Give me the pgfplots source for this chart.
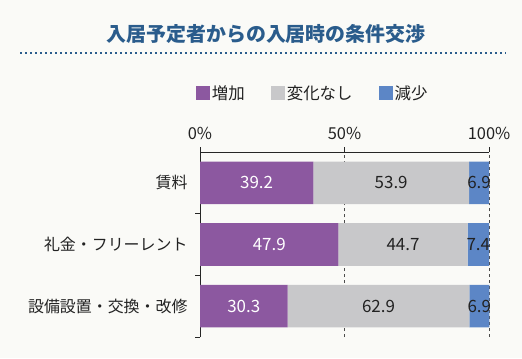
\documentclass[border=0pt]{standalone}
\usepackage{fontspec}
\setmainfont{Noto Sans CJK JP}
\usepackage{pgfplots}
\pgfplotsset{compat=1.18}
\definecolor{bg}{RGB}{250,250,247}
\definecolor{ttl}{RGB}{42,92,140}
\definecolor{cP}{RGB}{140,88,160}
\definecolor{cG}{RGB}{200,200,202}
\definecolor{cB}{RGB}{92,134,198}
\definecolor{txt}{RGB}{34,34,34}
\begin{document}
\begin{tikzpicture}[x=1bp,y=1bp]
\fill[bg] (0,0) rectangle (522,358);
\node[font=\fontsize{20}{24}\selectfont\bfseries, text=ttl] at (266,324) {入居予定者からの入居時の条件交渉};
\draw[ttl, line width=1.6bp, dash pattern=on 1.6bp off 3.4bp] (20,305) -- (506,305);
\begin{axis}[
  at={(200bp,206bp)}, anchor=north west,
  scale only axis, width=289bp, height=185bp,
  clip=false,
  xbar stacked, bar width=0.69,
  xmin=0, xmax=100, ymin=-0.5, ymax=2.5,
  axis x line*=top, axis y line*=left,
  axis line style={-, black!85, line width=0.8bp},
  tick align=outside,
  xtick={0,50,100}, xticklabels={0\%,50\%,100\%},
  ytick={0,1,2}, yticklabels={設備設置・交換・改修,礼金・フリーレント,賃料},
  major tick length=0bp,
  minor ytick={-0.5,0.5,1.5}, minor tick length=5bp,
  extra x ticks={0,50,100}, extra x tick labels={},
  extra x tick style={major tick length=5bp, grid=none},
  tick style={black!85, line width=0.8bp},
  xmajorgrids, major grid style={black!70, dashed, line width=0.8bp},
  xticklabel style={font=\fontsize{16.5}{20}\selectfont, text=txt, yshift=9bp},
  yticklabel style={font=\fontsize{16}{20}\selectfont, text=txt, xshift=-9bp},
  legend style={at={(-0.025,1.319)}, anchor=west, draw=none, fill=none,
    font=\fontsize{16.5}{20}\selectfont, text=txt, legend columns=-1,
    /tikz/every even column/.append style={column sep=24bp}},
  legend image code/.code={\fill[#1] (0bp,-7bp) rectangle (14bp,7bp);},
  /pgf/number format/assume math mode=true,
  visualization depends on={rawx \as \myx},
  nodes near coords={\pgfmathprintnumber[fixed,precision=1,fixed zerofill]{\myx}},
  nodes near coords align={center},
  every node near coord/.append style={anchor=center, font=\fontsize{17}{20}\selectfont},
]
\addplot[fill=cP, draw=none, every node near coord/.append style={text=white}] coordinates {(30.3,0) (47.9,1) (39.2,2)};
\addplot[fill=cG, draw=none, every node near coord/.append style={text=txt}] coordinates {(62.9,0) (44.7,1) (53.9,2)};
\addplot[fill=cB, draw=none, every node near coord/.append style={text=txt}] coordinates {(6.9,0) (7.4,1) (6.9,2)};
\legend{増加,変化なし,減少}
\end{axis}
\end{tikzpicture}
\end{document}
